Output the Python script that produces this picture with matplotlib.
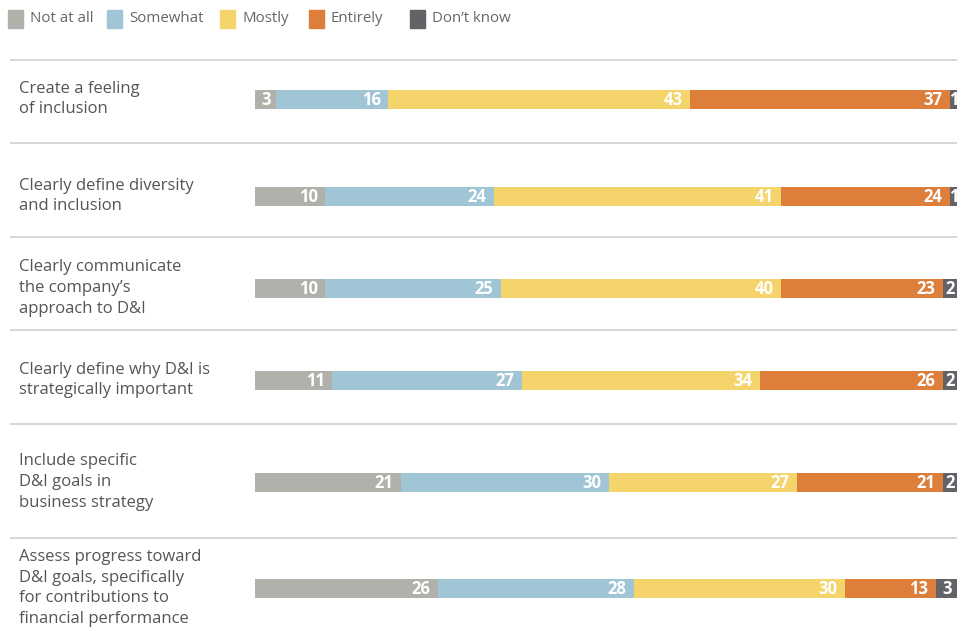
import numpy as np
import matplotlib.pyplot as plt
from matplotlib.patches import Rectangle

plt.rcParams['font.family'] = ['Open Sans', 'DejaVu Sans']

categories = [
    'Create a feeling\nof inclusion',
    'Clearly define diversity\nand inclusion',
    'Clearly communicate\nthe company\u2019s\napproach to D&I',
    'Clearly define why D&I is\nstrategically important',
    'Include specific\nD&I goals in\nbusiness strategy',
    'Assess progress toward\nD&I goals, specifically\nfor contributions to\nfinancial performance',
]
series = ['Not at all', 'Somewhat', 'Mostly', 'Entirely', 'Don\u2019t know']
not_at_all = [3, 10, 10, 11, 21, 26]
somewhat = [16, 24, 25, 27, 30, 28]
mostly = [43, 41, 40, 34, 27, 30]
entirely = [37, 24, 23, 26, 21, 13]
dont_know = [1, 1, 2, 2, 2, 3]

colors = ['#b1b1ab', '#a0c6d6', '#f5d56b', '#dd7e3b', '#626366']

# layout (pixels)
W, H = 968, 631
row_y = [99, 196, 288, 380, 482, 588]
sep_y = [60, 143, 237, 330, 424, 538]
bar_left, bar_right = 255, 957
bar_h = 19

fig = plt.figure(figsize=(W / 100, H / 100), dpi=100)
ax = fig.add_axes([bar_left / W, 0, (bar_right - bar_left) / W, 1])
ax.set_xlim(0, 100)
ax.set_ylim(H, 0)
ax.axis('off')

data = np.array([not_at_all, somewhat, mostly, entirely, dont_know], dtype=float)
totals = data.sum(axis=0)
scaled = data / totals * 100

# separators
px = 100 / (bar_right - bar_left)
for y in sep_y:
    ax.plot([-(bar_left - 10) * px, 100], [y, y], color='#d3d3d3', lw=1.3,
            clip_on=False, solid_capstyle='butt')

left = np.zeros(len(categories))
for i, name in enumerate(series):
    ax.barh(row_y, scaled[i], left=left, height=bar_h, color=colors[i],
            edgecolor='none')
    for j in range(len(categories)):
        w = scaled[i][j]
        if w < 5:
            # narrow segment: centre the number
            ax.annotate(str(int(data[i][j])), (left[j] + w / 2, row_y[j]),
                        xytext=(0.3, -0.5), textcoords='offset points',
                        ha='center', va='center', color='white',
                        fontsize=12, fontweight='bold', clip_on=False)
        else:
            ax.annotate(str(int(data[i][j])), (left[j] + w, row_y[j]),
                        xytext=(-5.5, -0.5), textcoords='offset points',
                        ha='right', va='center', color='white',
                        fontsize=12, fontweight='bold', clip_on=False)
    left += scaled[i]

for j, lab in enumerate(categories):
    ax.text(-(bar_left - 19) * px, row_y[j], lab, ha='left', va='center',
            color='#555555', fontsize=12, linespacing=1.38, clip_on=False)

# legend
leg_x = [8, 107, 220, 309, 410]
for k, name in enumerate(series):
    fig.add_artist(Rectangle((leg_x[k] / W, 1 - 28 / H), 15 / W, 18 / H,
                             transform=fig.transFigure, color=colors[k]))
    fig.text((leg_x[k] + 22) / W, 1 - 19 / H, name, ha='left', va='center',
             color='#666666', fontsize=10.8)

fig.savefig('out.png', dpi=100)
